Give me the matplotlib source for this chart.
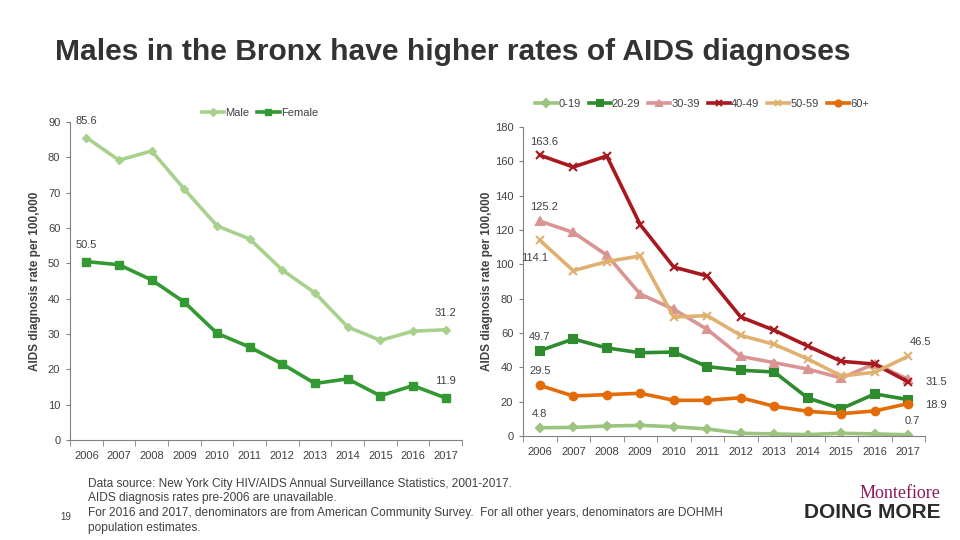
import numpy as np
import matplotlib.pyplot as plt

plt.rcParams['font.family'] = ['Liberation Sans', 'DejaVu Sans']

years = ['2006', '2007', '2008', '2009', '2010', '2011',
         '2012', '2013', '2014', '2015', '2016', '2017']

male = [85.6, 79.2, 81.8, 71.0, 60.6, 56.9, 48.1, 41.6, 32.0, 28.2, 30.8, 31.2]
female = [50.5, 49.6, 45.3, 39.0, 30.2, 26.3, 21.5, 16.0, 17.3, 12.5, 15.4, 11.9]

age_0_19 = [4.8, 5.0, 5.8, 6.2, 5.4, 4.1, 1.6, 1.2, 0.8, 1.6, 1.2, 0.7]
age_20_29 = [49.7, 56.5, 51.3, 48.5, 48.9, 40.4, 38.3, 37.3, 22.1, 15.9, 24.5, 21.2]
age_30_39 = [125.2, 118.6, 105.4, 82.7, 73.8, 62.1, 46.4, 42.7, 39.0, 33.8, 42.1, 33.0]
age_40_49 = [163.6, 156.7, 163.1, 123.1, 98.4, 93.2, 69.3, 61.6, 52.4, 43.5, 41.9, 31.5]
age_50_59 = [114.1, 96.3, 101.6, 104.9, 69.3, 70.1, 58.6, 53.4, 44.9, 35.0, 37.1, 46.5]
age_60p = [29.5, 23.3, 24.1, 24.9, 20.8, 20.8, 22.3, 17.3, 14.4, 13.0, 14.6, 18.9]

W, H = 960, 540
fig = plt.figure(figsize=(9.6, 5.4), dpi=100)
fig.patch.set_facecolor('white')

def px_axes(x0, y_top, x1, y_bot):
    return fig.add_axes([x0 / W, 1 - y_bot / H, (x1 - x0) / W, (y_bot - y_top) / H])

def style_axis(ax, ymax, step):
    x = np.arange(len(years))
    ax.set_xlim(-0.5, len(years) - 0.5)
    ax.set_ylim(0, ymax)
    ax.set_yticks(np.arange(0, ymax + 1, step))
    ax.set_xticks(x)
    ax.set_xticklabels(years)
    ax.set_xticks(np.arange(-0.5, len(years), 1), minor=True)
    ax.tick_params(axis='x', which='major', length=0, pad=8, labelsize=8, labelcolor='#404040')
    ax.tick_params(axis='x', which='minor', length=4, direction='out', color='#808080')
    ax.tick_params(axis='y', length=3, direction='out', color='#808080', labelsize=8,
                   labelcolor='#404040', pad=4)
    for s in ['top', 'right']:
        ax.spines[s].set_visible(False)
    for s in ['left', 'bottom']:
        ax.spines[s].set_color('#808080')
    ax.set_ylabel('AIDS diagnosis rate per 100,000', fontsize=8.5, fontweight='bold',
                  color='#404040')

fig.text(55 / W, 1 - 52 / H, 'Males in the Bronx have higher rates of AIDS diagnoses',
         fontsize=21.6, fontweight='bold', color='#333333', va='center', ha='left')

leg_kw = dict(frameon=False, fontsize=8, handlelength=2.0, handletextpad=0.1,
              columnspacing=0.7, labelcolor='#404040', markerscale=0.8)

# left chart: sex
ax1 = px_axes(70, 122, 462, 440)
x = np.arange(len(years))
ax1.plot(x, male, color='#a9d18e', lw=2.6, marker='D', ms=4.5, label='Male')
ax1.plot(x, female, color='#339933', lw=2.6, marker='s', ms=5.5, label='Female')
style_axis(ax1, 90, 10)
ax1.yaxis.set_label_coords(-0.075, 0.5)
ax1.legend(loc='center', bbox_to_anchor=((260 - 70) / 392, (440 - 113) / 318), ncol=2,
           **leg_kw)

lab = dict(fontsize=8, color='#404040', ha='center')
ax1.annotate('85.6', (0, male[0]), xytext=(0, 10), textcoords='offset points', **lab)
ax1.annotate('50.5', (0, female[0]), xytext=(0, 10), textcoords='offset points', **lab)
ax1.annotate('31.2', (11, male[-1]), xytext=(0, 10), textcoords='offset points', **lab)
ax1.annotate('11.9', (11, female[-1]), xytext=(0, 10), textcoords='offset points', **lab)

# right chart: age groups
ax2 = px_axes(523, 127, 925, 436)
series = [
    ('0-19', age_0_19, '#9bc47f', 'D', 4.5),
    ('20-29', age_20_29, '#2e8b2e', 's', 5.5),
    ('30-39', age_30_39, '#d99594', '^', 5.5),
    ('40-49', age_40_49, '#a8191f', 'x', 6),
    ('50-59', age_50_59, '#e0b070', 'x', 6),
    ('60+', age_60p, '#e36c09', 'o', 5.5),
]
for name, vals, col, mk, ms in series:
    ax2.plot(x, vals, color=col, lw=2.6, marker=mk, ms=ms, mew=1.5, label=name)
style_axis(ax2, 180, 20)
ax2.yaxis.set_label_coords(-0.075, 0.5)
ax2.legend(loc='center', bbox_to_anchor=((702 - 523) / 402, (436 - 104) / 309), ncol=6,
           **leg_kw)

ax2.annotate('163.6', (0, age_40_49[0]), xytext=(3, 7), textcoords='offset points', **lab)
ax2.annotate('125.2', (0, age_30_39[0]), xytext=(3, 8), textcoords='offset points', **lab)
ax2.annotate('114.1', (0, age_50_59[0]), xytext=(-4, -15), textcoords='offset points', **lab)
ax2.annotate('49.7', (0, age_20_29[0]), xytext=(0, 8), textcoords='offset points', **lab)
ax2.annotate('29.5', (0, age_60p[0]), xytext=(0, 8), textcoords='offset points', **lab)
ax2.annotate('4.8', (0, age_0_19[0]), xytext=(0, 8), textcoords='offset points', **lab)
ax2.annotate('46.5', (11, age_50_59[-1]), xytext=(9, 8), textcoords='offset points', **lab)
ax2.annotate('31.5', (11, age_40_49[-1]), xytext=(20, 0), textcoords='offset points',
             fontsize=8, color='#404040', ha='center', va='center')
ax2.annotate('18.9', (11, age_60p[-1]), xytext=(20, -1), textcoords='offset points',
             fontsize=8, color='#404040', ha='center', va='center')
ax2.annotate('0.7', (11, age_0_19[-1]), xytext=(3, 8), textcoords='offset points', **lab)

# footer
notes = ['Data source: New York City HIV/AIDS Annual Surveillance Statistics, 2001-2017.',
         'AIDS diagnosis rates pre-2006 are unavailable.',
         'For 2016 and 2017, denominators are from American Community Survey.  '
         'For all other years, denominators are DOHMH',
         'population estimates.']
for i, line in enumerate(notes):
    fig.text(88 / W, 1 - (484 + i * 14.5) / H, line, fontsize=8.6, color='#404040',
             va='center', ha='left')
fig.text(60 / W, 1 - 517 / H, '19', fontsize=7, color='#404040', va='center', ha='left')

fig.text(940 / W, 1 - 494 / H, 'Montefiore', fontsize=13, color='#8b1a5a',
         family=['Liberation Serif', 'DejaVu Serif'], va='center', ha='right')
fig.text(940 / W, 1 - 512 / H, 'DOING MORE', fontsize=15, fontweight='bold',
         color='#2b2b2b', va='center', ha='right')

fig.savefig('out.png', dpi=100)
